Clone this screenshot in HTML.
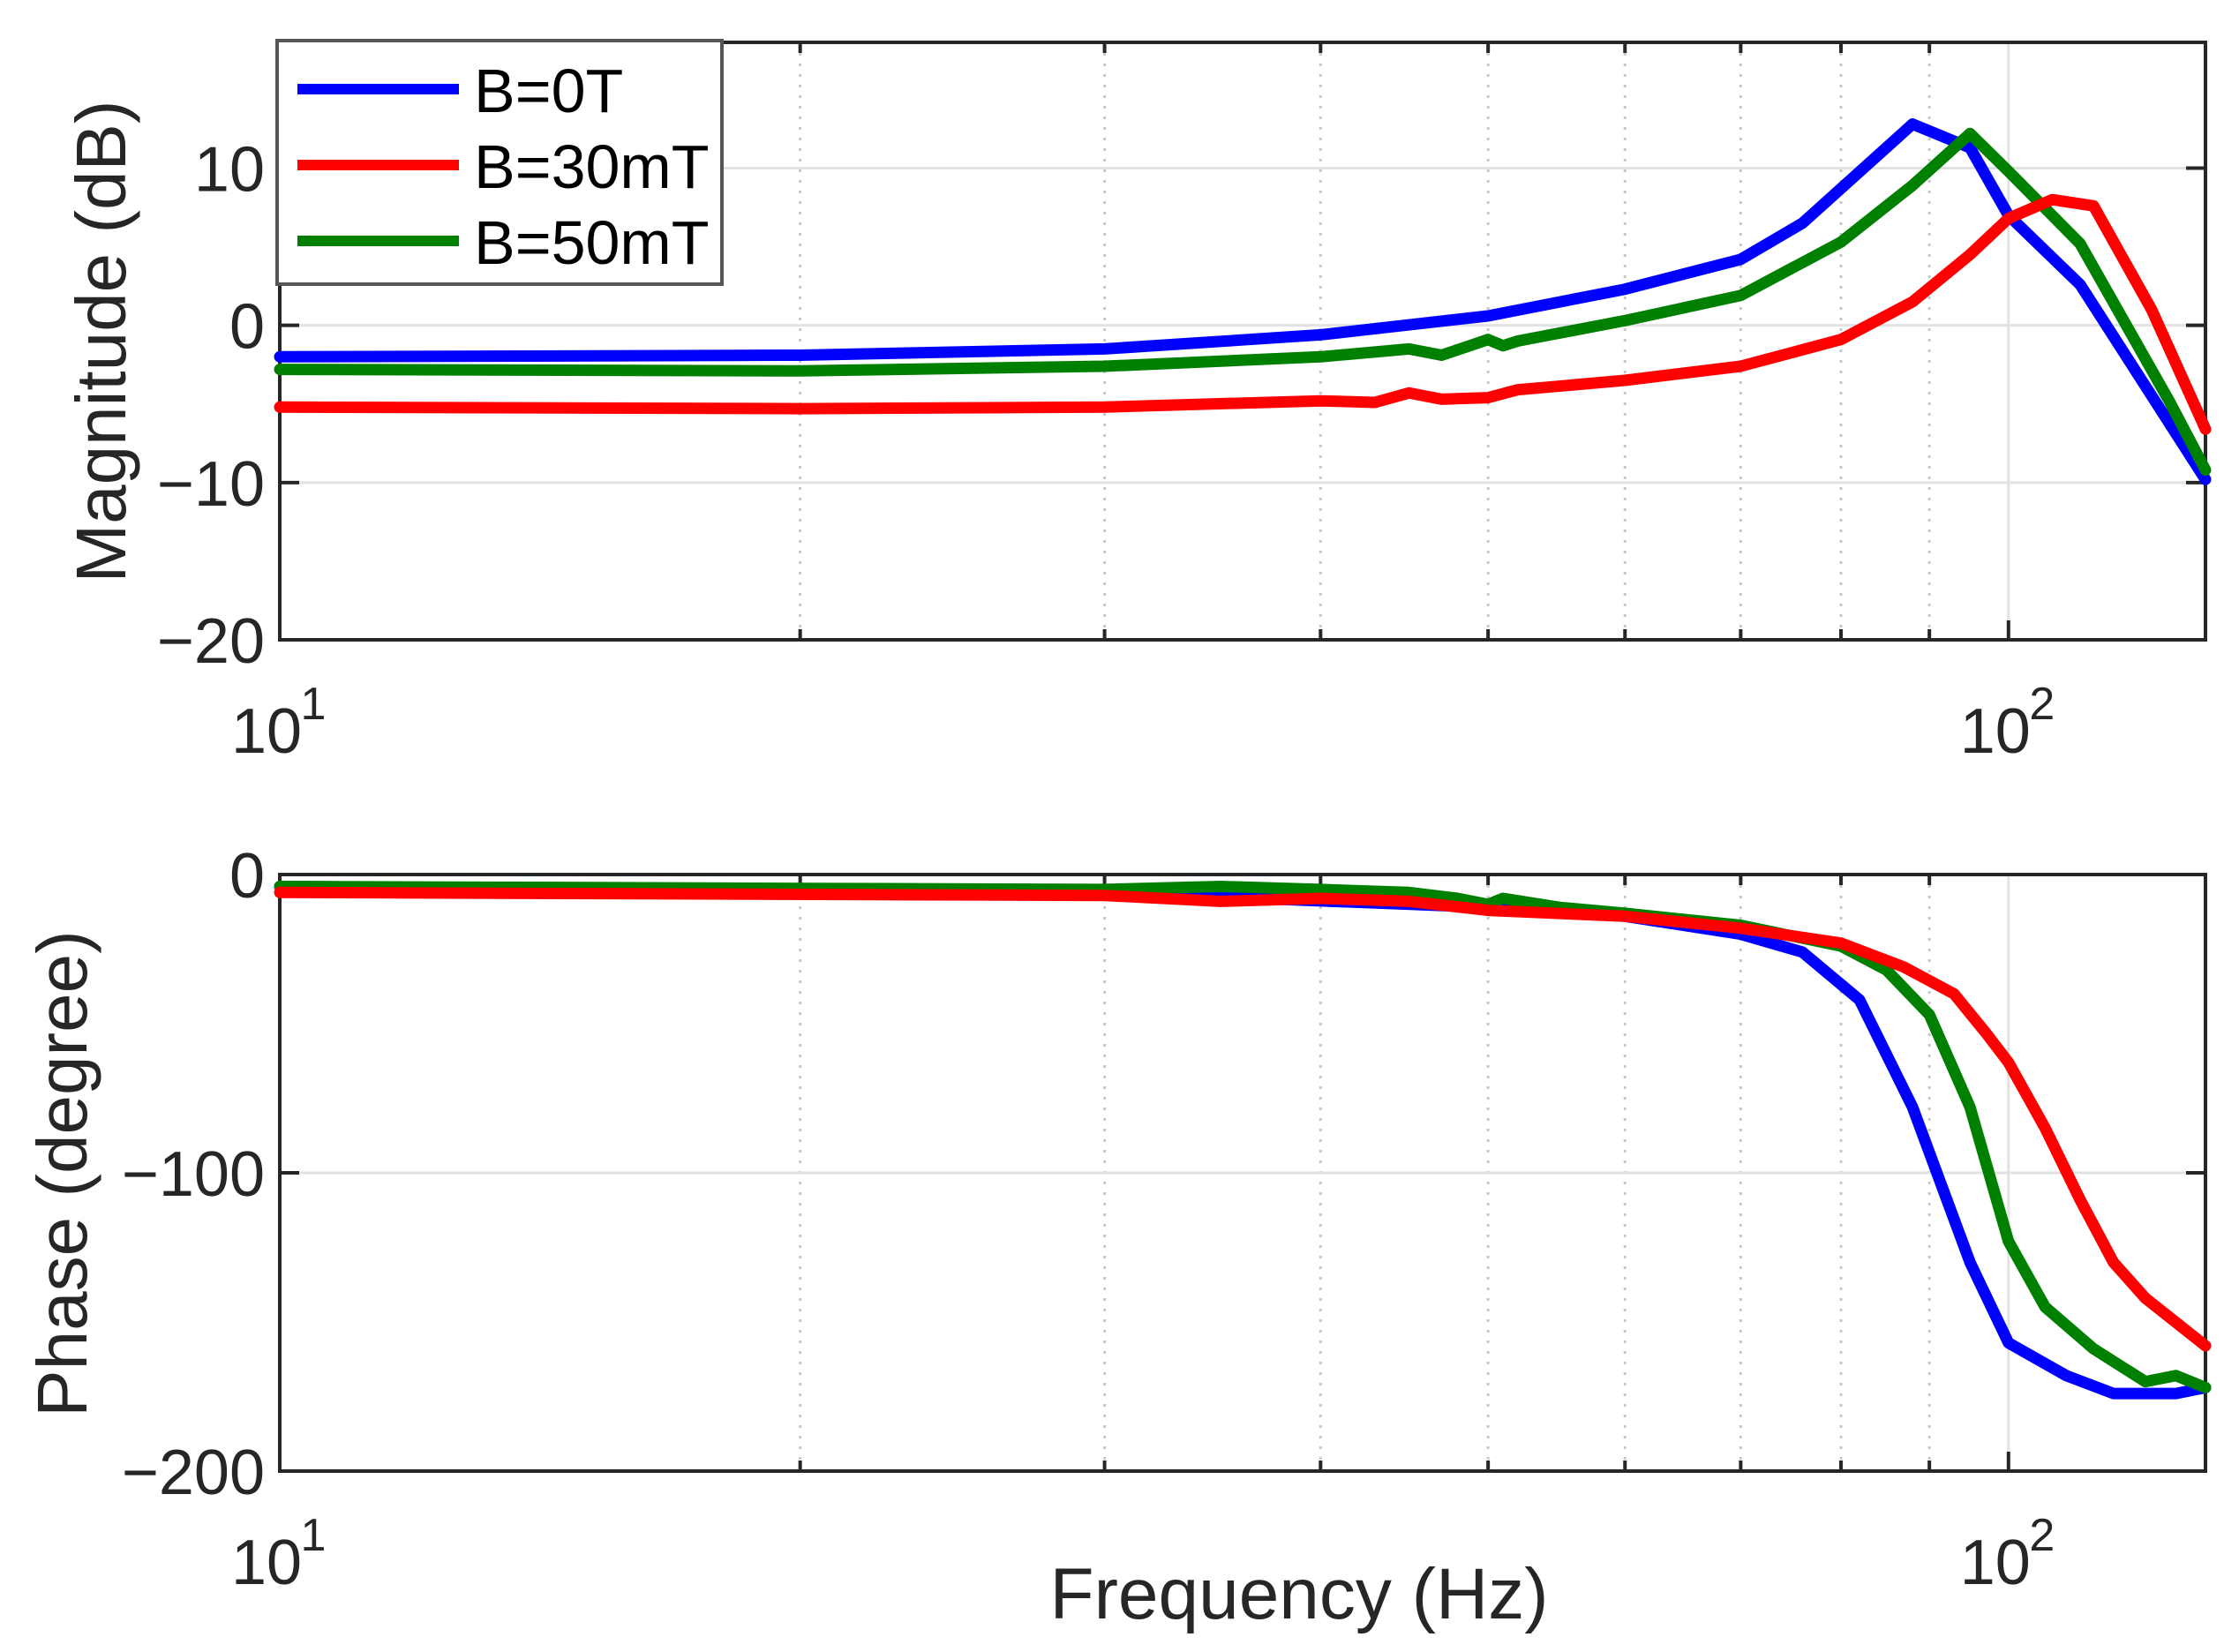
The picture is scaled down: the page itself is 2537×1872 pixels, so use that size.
<!DOCTYPE html>
<html><head><meta charset="utf-8"><style>
html,body{margin:0;padding:0;background:#fff;}
svg{display:block;font-family:"Liberation Sans",Arial,sans-serif;}
</style></head><body>
<svg id="chart" width="2537" height="1872" viewBox="0 0 2537 1872" xmlns="http://www.w3.org/2000/svg">
<rect width="2537" height="1872" fill="#fff"/>
<g id="layer"></g>
</svg>
<script>
// ---- data ----
const seriesNames = ["B=0T", "B=30mT", "B=50mT"];
const seriesColors = ["#0000ff", "#ff0000", "#008000"];
const magFreq0 = [10,20,30,40,50,60,70,76,88,95,100,110,130];
const magVal0  = [-2,-1.9,-1.5,-0.6,0.6,2.3,4.2,6.5,12.8,11.3,7,2.6,-9.8];
const magFreq30 = [10,20,30,40,43,45,47,50,52,60,70,80,88,95,100,106,112,121,130];
const magVal30  = [-5.2,-5.3,-5.2,-4.8,-4.9,-4.3,-4.7,-4.6,-4.1,-3.5,-2.6,-0.9,1.5,4.5,6.8,8,7.6,1.0,-6.6];
const magFreq50 = [10,20,30,40,45,47,50,51,52,60,70,80,88,95,100,110,124,130];
const magVal50  = [-2.8,-2.9,-2.6,-2.0,-1.5,-1.9,-0.9,-1.3,-1,0.3,1.9,5.3,8.9,12.2,9.8,5.2,-4.9,-9.2];
const phFreq0 = [10,30,50,60,70,76,82,88,95,100,108,115,125,130];
const phVal0  = [-4,-6,-11,-14,-20,-26,-42,-78,-130,-157,-168,-174,-174,-172];
const phFreq30 = [10,30,35,40,45,50,60,70,80,87,93,97,100,105,110,115,120,130];
const phVal30  = [-6,-7,-9,-8,-9,-12,-14,-18,-23,-31,-40,-53,-63,-85,-109,-130,-142,-158];
const phFreq50 = [10,30,35,40,45,48,50,51,55,60,70,80,85,90,95,100,105,112,120,125,130];
const phVal50  = [-4,-5,-4,-5,-6,-8,-10,-8,-11,-13,-17,-24,-32,-47,-78,-123,-145,-159,-170,-168,-172];
const magTicks = [10,0,-10,-20];
const phTicks = [0,-100,-200];
const minorFreqs = [20,30,40,50,60,70,80,90];

// ---- layout ----
const X0=317, X1=2499, FMIN=10, FMAX=130;
const decPx=(X1-X0)/Math.log10(FMAX/FMIN);
function xs(f){return X0+Math.log10(f/FMIN)*decPx;}
const M={top:48,bot:725,min:-20,max:18};
const P={top:991,bot:1667,min:-200,max:0};
function ys(ax,v){return ax.bot-(v-ax.min)/(ax.max-ax.min)*(ax.bot-ax.top);}

const NS="http://www.w3.org/2000/svg";
const layer=document.getElementById('layer');
function mk(tag,attrs,parent){const e=document.createElementNS(NS,tag);for(const k in attrs)e.setAttribute(k,attrs[k]);(parent||layer).appendChild(e);return e;}

function drawAxes(ax,ticks,nm){
  const g=mk('g',{});
  
  
  minorFreqs.forEach(f=>{
    const l=mk('line',{x1:xs(f),x2:xs(f),y1:ax.top,y2:ax.bot,stroke:'#c8c8c8','stroke-width':3,'stroke-dasharray':'3 9'},g);
    
    
    mk('line',{x1:xs(f),x2:xs(f),y1:ax.bot,y2:ax.bot-12,stroke:'#262626','stroke-width':4},g);
    mk('line',{x1:xs(f),x2:xs(f),y1:ax.top,y2:ax.top+12,stroke:'#262626','stroke-width':4},g);
  });
  const gx=mk('line',{x1:xs(100),x2:xs(100),y1:ax.top,y2:ax.bot,stroke:'#e2e2e2','stroke-width':3},g);
  
  
  mk('line',{x1:xs(100),x2:xs(100),y1:ax.bot,y2:ax.bot-22,stroke:'#262626','stroke-width':4},g);
  ticks.forEach(t=>{
    const y=ys(ax,t);
    if(t!==ax.min&&t!==ax.max){
      const gl=mk('line',{x1:X0,x2:X1,y1:y,y2:y,stroke:'#e2e2e2','stroke-width':3},g);
      
      
    }
    mk('line',{x1:X0,x2:X0+22,y1:y,y2:y,stroke:'#262626','stroke-width':4},g);
    mk('line',{x1:X1,x2:X1-22,y1:y,y2:y,stroke:'#262626','stroke-width':4},g);
    const tx=mk('text',{x:300,y:y+26,'font-size':72,'text-anchor':'end',fill:'#262626'},g);
    tx.textContent=(t<0?'\u2212':'')+Math.abs(t);
    
    
  });
  const r=mk('rect',{x:X0,y:ax.top,width:X1-X0,height:ax.bot-ax.top,fill:'none',stroke:'#262626','stroke-width':4},g);
  
  
  [[10,'1'],[100,'2']].forEach(([f,e])=>{
    const t=mk('text',{x:xs(f)-15,y:ax.bot+128,'font-size':72,'text-anchor':'middle',fill:'#262626'},g);
    t.textContent='10';
    
    
    const s=mk('text',{x:xs(f)+38,y:ax.bot+90,'font-size':52,'text-anchor':'middle',fill:'#262626'},g);
    s.textContent=e;
  });
}
drawAxes(M,magTicks,'magnitude');
drawAxes(P,phTicks,'phase');

function drawLine(ax,fr,vals,color,nm){
  const pts=fr.map((f,i)=>xs(f).toFixed(1)+','+ys(ax,vals[i]).toFixed(1)).join(' ');
  const p=mk('polyline',{points:pts,fill:'none',stroke:color,'stroke-width':13,'stroke-linejoin':'round','stroke-linecap':'round'});
  
  
}
drawLine(M,magFreq0,magVal0,seriesColors[0],'magnitude-line-0t');
drawLine(M,magFreq50,magVal50,seriesColors[2],'magnitude-line-50mt');
drawLine(M,magFreq30,magVal30,seriesColors[1],'magnitude-line-30mt');
drawLine(P,phFreq0,phVal0,seriesColors[0],'phase-line-0t');
drawLine(P,phFreq50,phVal50,seriesColors[2],'phase-line-50mt');
drawLine(P,phFreq30,phVal30,seriesColors[1],'phase-line-30mt');

// legend
const lg=mk('g',{});


mk('rect',{x:314,y:46,width:504,height:276,fill:'#fff',stroke:'#555','stroke-width':4},lg);
const rowY=[101,187,273];
seriesNames.forEach((n,i)=>{
  const l=mk('line',{x1:337,x2:520,y1:rowY[i],y2:rowY[i],stroke:seriesColors[i],'stroke-width':12},lg);
  
  
  const t=mk('text',{x:537,y:rowY[i]+26,'font-size':70,fill:'#000'},lg);
  t.textContent=n;
  
  
});

// axis titles
const yl1=mk('text',{x:0,y:0,'font-size':80,'text-anchor':'middle',fill:'#262626',transform:'translate(142,387) rotate(-90)'});
yl1.textContent='Magnitude (dB)';


const yl2=mk('text',{x:0,y:0,'font-size':80,'text-anchor':'middle',fill:'#262626',transform:'translate(98,1330) rotate(-90)'});
yl2.textContent='Phase (degree)';


const xl=mk('text',{x:1472,y:1834,'font-size':82,'text-anchor':'middle',fill:'#262626'});
xl.textContent='Frequency (Hz)';


</script>
</body></html>
